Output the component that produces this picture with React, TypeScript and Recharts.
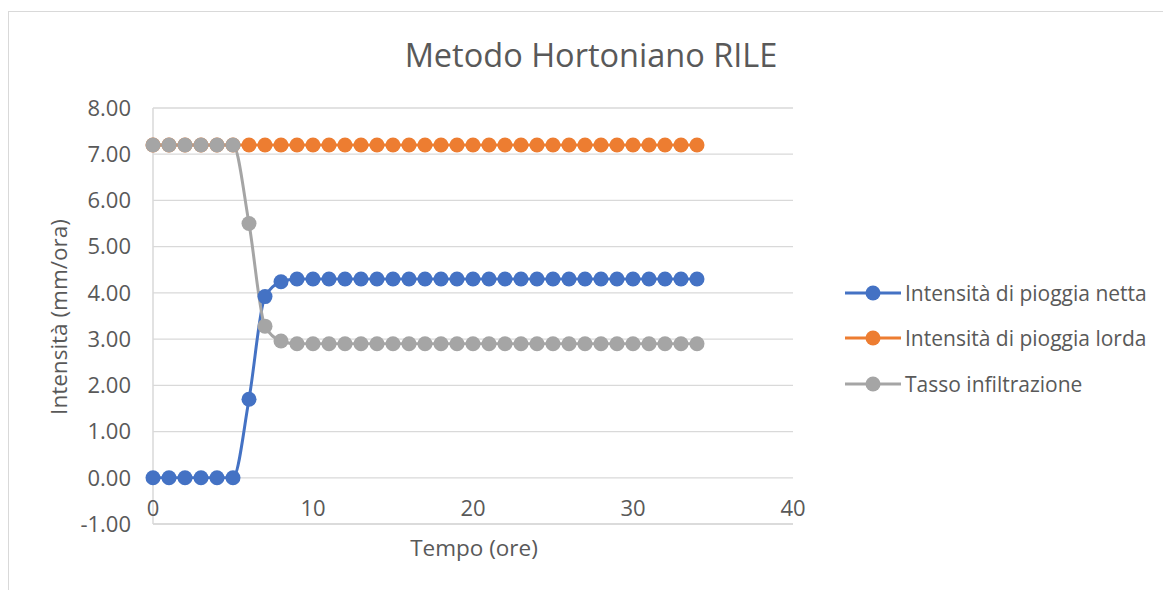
import { LineChart, Line, XAxis, YAxis, CartesianGrid } from 'recharts';

// Tempo (ore) di ogni misura
const tempo = [
  0, 1, 2, 3, 4, 5, 6, 7, 8, 9, 10, 11, 12, 13, 14, 15, 16, 17,
  18, 19, 20, 21, 22, 23, 24, 25, 26, 27, 28, 29, 30, 31, 32, 33, 34,
];

const pioggiaNetta = [
  0, 0, 0, 0, 0, 0, 1.7, 3.92, 4.24, 4.3, 4.3, 4.3, 4.3, 4.3, 4.3, 4.3, 4.3, 4.3,
  4.3, 4.3, 4.3, 4.3, 4.3, 4.3, 4.3, 4.3, 4.3, 4.3, 4.3, 4.3, 4.3, 4.3, 4.3, 4.3, 4.3,
];

const pioggiaLorda = [
  7.2, 7.2, 7.2, 7.2, 7.2, 7.2, 7.2, 7.2, 7.2, 7.2, 7.2, 7.2, 7.2, 7.2, 7.2, 7.2, 7.2, 7.2,
  7.2, 7.2, 7.2, 7.2, 7.2, 7.2, 7.2, 7.2, 7.2, 7.2, 7.2, 7.2, 7.2, 7.2, 7.2, 7.2, 7.2,
];

const infiltrazione = [
  7.2, 7.2, 7.2, 7.2, 7.2, 7.2, 5.5, 3.28, 2.96, 2.9, 2.9, 2.9, 2.9, 2.9, 2.9, 2.9, 2.9, 2.9,
  2.9, 2.9, 2.9, 2.9, 2.9, 2.9, 2.9, 2.9, 2.9, 2.9, 2.9, 2.9, 2.9, 2.9, 2.9, 2.9, 2.9,
];

const xTicks = [0, 10, 20, 30, 40];
const yTicks = [-1, 0, 1, 2, 3, 4, 5, 6, 7, 8];

const series = [
  { key: 'netta', name: 'Intensità di pioggia netta', color: '#4472C4' },
  { key: 'lorda', name: 'Intensità di pioggia lorda', color: '#ED7D31' },
  { key: 'infiltrazione', name: 'Tasso infiltrazione', color: '#A5A5A5' },
];

const data = tempo.map((t, i) => ({
  tempo: t,
  netta: pioggiaNetta[i],
  lorda: pioggiaLorda[i],
  infiltrazione: infiltrazione[i],
}));

const FONT = '"Open Sans", sans-serif';
const TEXT = '#595959';
const GRID = '#d9d9d9';

// tick dell'asse X disegnati sopra la linea dell'asse (come in Excel)
const XTick = (props: any) => {
  const { x, y, payload } = props;
  return (
    <text x={x} y={y - 8} textAnchor="middle" fill={TEXT} fontSize={22} fontFamily={FONT}>
      {payload.value}
    </text>
  );
};

const App = () => {
  return (
    <div
      style={{
        position: 'absolute',
        left: 0,
        top: 0,
        width: 1163,
        height: 590,
        overflow: 'hidden',
        background: '#fff',
        fontFamily: FONT,
        color: TEXT,
      }}
    >
      {/* bordo del grafico */}
      <div
        style={{
          position: 'absolute',
          left: 8,
          top: 11,
          width: 1200,
          height: 700,
          border: `1px solid ${GRID}`,
        }}
      />

      <div
        style={{
          position: 'absolute',
          left: 341,
          top: 39,
          width: 500,
          height: 32,
          lineHeight: '32px',
          fontSize: 32.5,
          textAlign: 'center',
          whiteSpace: 'nowrap',
        }}
      >
        Metodo Hortoniano RILE
      </div>

      <div style={{ position: 'absolute', left: 0, top: 0 }}>
        <LineChart
          width={1163}
          height={590}
          data={data}
          margin={{ top: 108, right: 370, bottom: 36, left: 93 }}
        >
          <CartesianGrid vertical={false} stroke={GRID} strokeWidth={1.3} />
          <XAxis
            dataKey="tempo"
            type="number"
            domain={[0, 40]}
            ticks={xTicks}
            height={30}
            axisLine={{ stroke: GRID, strokeWidth: 1.5 }}
            tickLine={false}
            tickSize={0}
            tickMargin={0}
            tick={<XTick />}
          />
          <YAxis
            type="number"
            domain={[-1, 8]}
            ticks={yTicks}
            width={60}
            tickFormatter={(v: number) => v.toFixed(2)}
            axisLine={{ stroke: GRID, strokeWidth: 1.5 }}
            tickLine={false}
            tickSize={0}
            tickMargin={22}
            tick={{ fill: TEXT, fontSize: 22, fontFamily: FONT }}
          />
          {series.map((s) => (
            <Line
              key={s.key}
              type="monotone"
              dataKey={s.key}
              name={s.name}
              stroke={s.color}
              strokeWidth={3}
              dot={{ r: 7.5, fill: s.color, stroke: s.color, strokeWidth: 0 }}
              activeDot={false}
              isAnimationActive={false}
            />
          ))}
        </LineChart>
      </div>

      {/* titolo asse Y */}
      <div
        style={{
          position: 'absolute',
          left: 59 - 150,
          top: 317 - 15,
          width: 300,
          height: 30,
          lineHeight: '30px',
          fontSize: 22.5,
          textAlign: 'center',
          transform: 'rotate(-90deg)',
          whiteSpace: 'nowrap',
        }}
      >
        Intensità (mm/ora)
      </div>

      {/* titolo asse X */}
      <div
        style={{
          position: 'absolute',
          left: 474 - 150,
          top: 533,
          width: 300,
          height: 30,
          lineHeight: '30px',
          fontSize: 22.5,
          textAlign: 'center',
          whiteSpace: 'nowrap',
        }}
      >
        Tempo (ore)
      </div>

      {/* legenda */}
      <div style={{ position: 'absolute', left: 845, top: 270 }}>
        {series.map((s) => (
          <div
            key={s.key}
            style={{ display: 'flex', alignItems: 'center', height: 45.5, whiteSpace: 'nowrap' }}
          >
            <svg width={56} height={20} style={{ marginRight: 4 }}>
              <line x1={0} y1={10} x2={56} y2={10} stroke={s.color} strokeWidth={3} />
              <circle cx={28} cy={10} r={7.5} fill={s.color} />
            </svg>
            <span style={{ fontSize: 21, lineHeight: '30px' }}>{s.name}</span>
          </div>
        ))}
      </div>
    </div>
  );
};

export default App;
